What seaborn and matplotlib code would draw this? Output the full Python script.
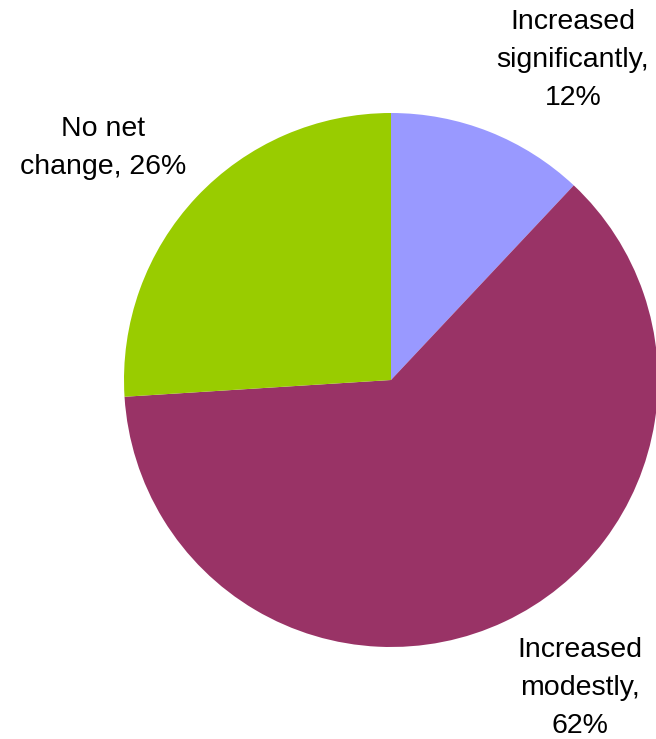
import matplotlib
matplotlib.use("Agg")
import matplotlib.pyplot as plt
import seaborn as sns

sns.set_theme(style="white")
plt.rcParams["font.family"] = ["Liberation Sans", "DejaVu Sans"]

categories = ["Increased\nsignificantly,", "Increased\nmodestly,", "No net\nchange,"]
shares = [12, 62, 26]
colors = ["#9999FF", "#993366", "#99CC00"]

W, H = 656, 739
fig = plt.figure(figsize=(W / 100, H / 100), dpi=100)
ax = fig.add_axes([0, 0, 1, 1])

ax.pie(shares, colors=colors, startangle=90, counterclock=False,
       center=(391, H - 380), radius=267, frame=True,
       wedgeprops=dict(linewidth=0))

ax.set_xlim(0, W)
ax.set_ylim(0, H)
ax.set_aspect("equal")
ax.axis("off")

label_pos = [(573, H - 60), (580, H - 688), (103, H - 148)]
for cat, val, (x, y) in zip(categories, shares, label_pos):
    if cat.startswith("No net"):
        text = f"No net\nchange, {val}%"
    else:
        text = f"{cat}\n{val}%"
    ax.text(x, y, text, ha="center", va="center", fontsize=20.5,
            linespacing=1.62, color="black")

fig.savefig("out.png", dpi=100)
